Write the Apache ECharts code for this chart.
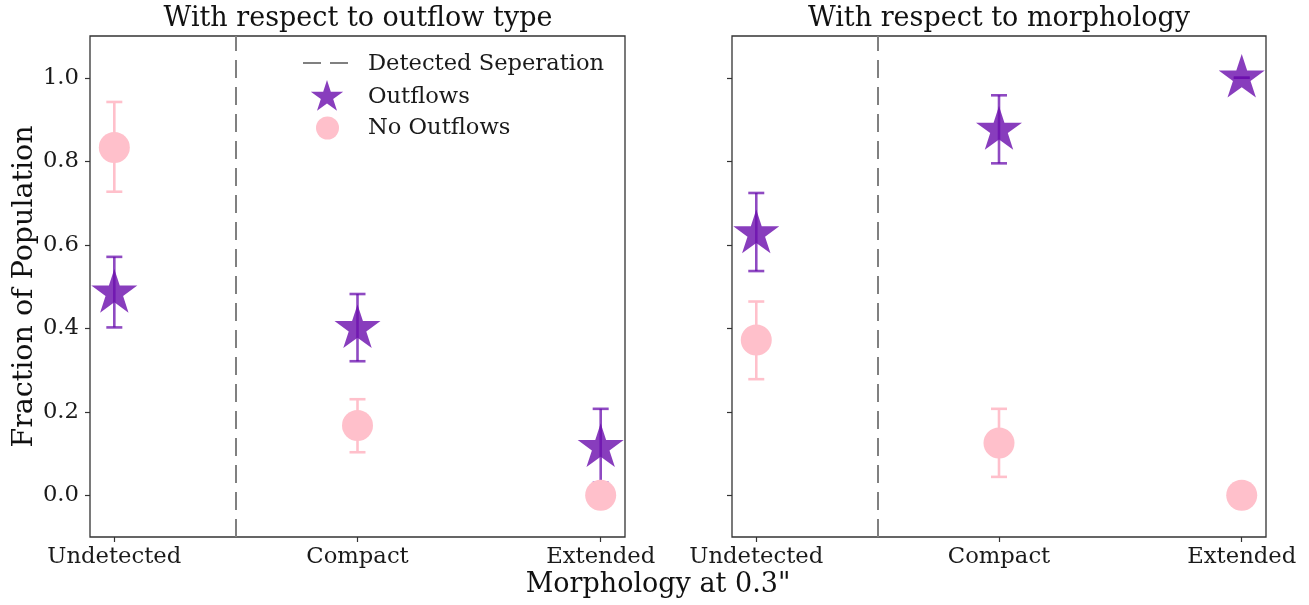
<!DOCTYPE html>
<html>
<head>
<meta charset="utf-8">
<script src="https://cdn.jsdelivr.net/npm/echarts@6/dist/echarts.min.js"></script>
<style>
  html, body { margin: 0; padding: 0; background: #ffffff; }
  #chart { width: 1309px; height: 605px; }
</style>
</head>
<body>
<div id="chart"></div>
<script>
// Morphology categories along x (placed at 0, 1, 2)
const categories = ['Undetected', 'Compact', 'Extended'];
const yTicks = [0.0, 0.2, 0.4, 0.6, 0.8, 1.0];
const separationX = 0.5;

// Panel 1: with respect to outflow type
const typeOutflows = [0.485, 0.400, 0.115];
const typeOutflowsErr = [[0.402, 0.571], [0.321, 0.482], [0.030, 0.207]];
const typeNoOutflows = [0.833, 0.167, 0.0];
const typeNoOutflowsErr = [[0.727, 0.942], [0.103, 0.230]];

// Panel 2: with respect to morphology
const morphOutflows = [0.627, 0.875, 1.0];
const morphOutflowsErr = [[0.537, 0.724], [0.795, 0.958], [1.0, 1.0]];
const morphNoOutflows = [0.372, 0.125, 0.0];
const morphNoOutflowsErr = [[0.278, 0.464], [0.044, 0.207]];

const PURPLE = '#6a0dad';
const PINK = '#ffc0cb';
const FONT = 'DejaVu Serif';

// five-pointed star outline, unit outer radius, centred on the origin
const STAR_PTS = [];
for (let k = 0; k < 10; k++) {
  const r = k % 2 === 0 ? 1 : 0.382;
  const a = k * Math.PI / 5;
  STAR_PTS.push([r * Math.sin(a), -r * Math.cos(a)]);
}
const STAR = 'path://' + STAR_PTS.map((p, k) => (k ? 'L' : 'M') + (p[0] * 100).toFixed(2) + ',' + (p[1] * 100).toFixed(2)).join('') + 'Z';

const toPoints = vals => vals.map((v, i) => [i, v]);
const toBars = errs => errs.map((e, i) => [i, e[0], e[1]]);

function errorBar(color, opacity) {
  return function (params, api) {
    const x = api.value(0);
    const lo = api.coord([x, api.value(1)]);
    const hi = api.coord([x, api.value(2)]);
    const half = 8;
    const style = { stroke: color, lineWidth: 2.6, opacity: opacity };
    return {
      type: 'group',
      children: [
        { type: 'line', shape: { x1: lo[0], y1: lo[1], x2: hi[0], y2: hi[1] }, style: style },
        { type: 'line', shape: { x1: lo[0] - half, y1: lo[1], x2: lo[0] + half, y2: lo[1] }, style: style },
        { type: 'line', shape: { x1: hi[0] - half, y1: hi[1], x2: hi[0] + half, y2: hi[1] }, style: style }
      ]
    };
  };
}

function panelSeries(idx, out, outErr, no, noErr) {
  const list = [
    {
      type: 'custom', xAxisIndex: idx, yAxisIndex: idx,
      renderItem: errorBar(PURPLE, 0.75), data: toBars(outErr), z: 2, silent: true
    },
    {
      type: 'scatter', name: 'Outflows', xAxisIndex: idx, yAxisIndex: idx,
      symbol: STAR, symbolKeepAspect: true, symbolSize: 46, symbolOffset: [0, -2],
      itemStyle: { color: PURPLE, opacity: 0.8 },
      data: toPoints(out), z: 3, silent: true
    },
    {
      type: 'custom', xAxisIndex: idx, yAxisIndex: idx,
      renderItem: errorBar(PINK, 1), data: toBars(noErr), z: 4, silent: true
    },
    {
      type: 'scatter', name: 'No Outflows', xAxisIndex: idx, yAxisIndex: idx,
      symbol: 'circle', symbolSize: 31,
      itemStyle: { color: PINK, opacity: 1 },
      data: toPoints(no), z: 5, silent: true
    }
  ];
  list[0].markLine = {
    silent: true, symbol: 'none', animation: false,
    label: { show: false },
    lineStyle: { color: '#808080', width: 2, type: [18, 9] },
    data: [{ xAxis: separationX }]
  };
  return list;
}

function xAxisFor(idx) {
  return {
    type: 'value', gridIndex: idx, min: -0.1, max: 2.1,
    axisLine: { show: false, onZero: false },
    splitLine: { show: false },
    axisTick: { show: true, length: 5, customValues: [0, 1, 2], lineStyle: { color: '#333', width: 1.2 } },
    axisLabel: {
      customValues: [0, 1, 2], margin: 9,
      formatter: v => categories[Math.round(v)],
      fontFamily: FONT, fontSize: 22.7, color: '#1a1a1a'
    }
  };
}

function yAxisFor(idx, showLabels) {
  const axis = {
    type: 'value', gridIndex: idx, min: -0.1, max: 1.1,
    axisLine: { show: false, onZero: false },
    splitLine: { show: false },
    axisTick: { show: true, length: 5, customValues: yTicks, lineStyle: { color: '#333', width: 1.2 } },
    axisLabel: {
      show: showLabels, customValues: yTicks, margin: 11,
      formatter: v => v.toFixed(1),
      fontFamily: FONT, fontSize: 22.7, color: '#1a1a1a'
    }
  };
  if (showLabels) {
    axis.name = 'Fraction of Population';
    axis.nameLocation = 'middle';
    axis.nameGap = 50;
    axis.nameTextStyle = { fontFamily: FONT, fontSize: 28.5, color: '#111' };
  }
  return axis;
}

const gridStyle = { show: true, borderColor: '#333', borderWidth: 1.3, top: 36, height: 501 };

// legend star drawn as a polygon around (327, 96)
const legendStar = STAR_PTS.map(p => [327 + p[0] * 17, 97 + p[1] * 17]);

const chart = echarts.init(document.getElementById('chart'), null, { renderer: 'canvas' });
chart.setOption({
  animation: false,
  backgroundColor: '#ffffff',
  grid: [
    Object.assign({ left: 90, width: 535 }, gridStyle),
    Object.assign({ left: 732, width: 534 }, gridStyle)
  ],
  xAxis: [xAxisFor(0), xAxisFor(1)],
  yAxis: [yAxisFor(0, true), yAxisFor(1, false)],
  series: [
    ...panelSeries(0, typeOutflows, typeOutflowsErr, typeNoOutflows, typeNoOutflowsErr),
    ...panelSeries(1, morphOutflows, morphOutflowsErr, morphNoOutflows, morphNoOutflowsErr)
  ],
  graphic: [
    { type: 'text', x: 358, y: 19, style: { text: 'With respect to outflow type', font: '27px "DejaVu Serif"', fill: '#111', align: 'center', verticalAlign: 'middle' } },
    { type: 'text', x: 999, y: 19, style: { text: 'With respect to morphology', font: '27px "DejaVu Serif"', fill: '#111', align: 'center', verticalAlign: 'middle' } },
    { type: 'text', x: 658, y: 585, style: { text: 'Morphology at 0.3"', font: '27px "DejaVu Serif"', fill: '#111', align: 'center', verticalAlign: 'middle' } },
    // legend
    { type: 'line', shape: { x1: 303, y1: 63, x2: 349, y2: 63 }, style: { stroke: '#808080', lineWidth: 2, lineDash: [18, 9] } },
    { type: 'polygon', shape: { points: legendStar }, style: { fill: PURPLE, opacity: 0.8 } },
    { type: 'circle', shape: { cx: 327.5, cy: 128, r: 11.5 }, style: { fill: PINK } },
    { type: 'text', x: 368, y: 64, style: { text: 'Detected Seperation', font: '22.6px "DejaVu Serif"', fill: '#1a1a1a', verticalAlign: 'middle' } },
    { type: 'text', x: 368, y: 97, style: { text: 'Outflows', font: '22.6px "DejaVu Serif"', fill: '#1a1a1a', verticalAlign: 'middle' } },
    { type: 'text', x: 368, y: 128, style: { text: 'No Outflows', font: '22.6px "DejaVu Serif"', fill: '#1a1a1a', verticalAlign: 'middle' } }
  ]
});
</script>
</body>
</html>
